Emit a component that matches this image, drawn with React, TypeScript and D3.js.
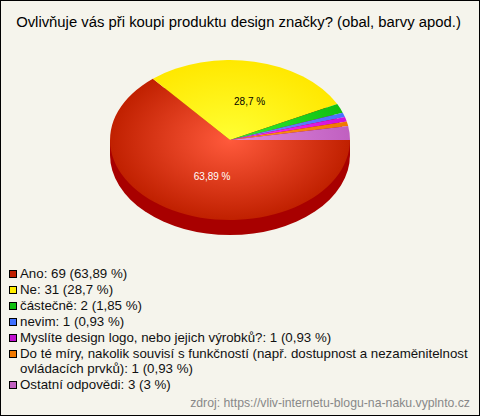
import React from "react";
import * as d3 from "d3";

const WIDTH = 480;
const HEIGHT = 416;
const titleText = "Ovlivňuje vás při koupi produktu design značky? (obal, barvy apod.)";
const sourceText = "zdroj: https://vliv-internetu-blogu-na-naku.vyplnto.cz";
const categories = ["Ano", "Ne", "částečně", "nevim", "Myslíte design logo, nebo jejich výrobků?", "Do té míry, nakolik souvisí s funkčností (např. dostupnost a nezaměnitelnost|ovládacích prvků)", "Ostatní odpovědi"];
const values = [69, 31, 2, 1, 1, 1, 3];
const percentLabels = ["63,89", "28,7", "1,85", "0,93", "0,93", "0,93", "3"];
const legendColors = ["#c02000", "#ffee00", "#10c010", "#4070ff", "#c010d0", "#f07800", "#c060c0"];
const innerColors = ["#ff5a3c", "#ffff33", "#33ee33", "#6f8fff", "#ff33ff", "#ff9922", "#e088e0"];
const outerColors = ["#c02000", "#ffe800", "#10c010", "#4a70ff", "#d010d8", "#f07800", "#c060c0"];
const sideColor = "#a80000";

const cx = 230;
const cy = 140;
const rx = 120;
const ry = 80;
const depth = 15;

export default function App() {
  const pie = d3.pie<number>().sort(null).startAngle(Math.PI / 2).endAngle(Math.PI * 2.5);
  const arcs = pie(values);
  const arc = d3.arc<d3.PieArcDatum<number>>().innerRadius(0).outerRadius(rx);
  const labelArc = d3.arc<d3.PieArcDatum<number>>().innerRadius(rx * 0.5).outerRadius(rx * 0.5);
  const scaleY = ry / rx;

  const rowYs = [278, 294, 310, 326, 342, 358, 373, 389];
  let row = 0;
  const legendRows = categories.map((c, i) => {
    const parts = c.split("|");
    row += parts.length;
    return { parts, lineYs: parts.map((_, k) => rowYs[row - parts.length + k]), i };
  });

  return (
    <svg width={WIDTH} height={HEIGHT} viewBox={`0 0 ${WIDTH} ${HEIGHT}`} style={{ position: "absolute", left: 0, top: 0, fontFamily: "'Liberation Sans', Arial, sans-serif" }}>
      <defs>
        {arcs.map((_, i) => (
          <radialGradient key={i} id={`g${i}`} gradientUnits="userSpaceOnUse" cx={0} cy={0} r={rx}>
            <stop offset="0" stopColor={innerColors[i]} />
            <stop offset="1" stopColor={outerColors[i]} />
          </radialGradient>
        ))}
      </defs>
      <rect x={0.5} y={0.5} width={WIDTH - 1} height={HEIGHT - 1} fill="#f5f4ec" stroke="#000" />
      <text x={238.5} y={27} textAnchor="middle" fontSize={14.85} fill="#000">{titleText}</text>

      <g transform={`translate(${cx},${cy + depth}) scale(1,${scaleY})`}>
        <circle r={rx} fill={sideColor} />
      </g>
      <rect x={cx - rx} y={cy} width={rx * 2} height={depth} fill={sideColor} />
      <g transform={`translate(${cx},${cy}) scale(1,${scaleY})`}>
        {arcs.map((a, i) => (
          <path key={i} d={arc(a) ?? ""} fill={`url(#g${i})`} />
        ))}
      </g>
      {arcs.slice(0, 2).map((a, i) => {
        const [lx, ly] = labelArc.centroid(a);
        return (
          <text key={i} x={cx + lx + 7.5} y={cy + ly * scaleY + 4} textAnchor="middle" fontSize={10} fill={i === 0 ? "#fff" : "#000"}>
            {percentLabels[i]} %
          </text>
        );
      })}

      {legendRows.map(({ parts, lineYs, i }) => (
        <g key={i}>
          <rect x={9.5} y={lineYs[0] - 7.5} width={7} height={7} fill={legendColors[i]} stroke="#000" />
          {parts.map((p, k) => (
            <text key={k} x={20} y={lineYs[k]} fontSize={13.3} fill="#111">
              {k === parts.length - 1 ? `${p}: ${values[i]} (${percentLabels[i]} %)` : p}
            </text>
          ))}
        </g>
      ))}
      <text x={470} y={407} textAnchor="end" fontSize={12.25} fill="#888">{sourceText}</text>
    </svg>
  );
}
